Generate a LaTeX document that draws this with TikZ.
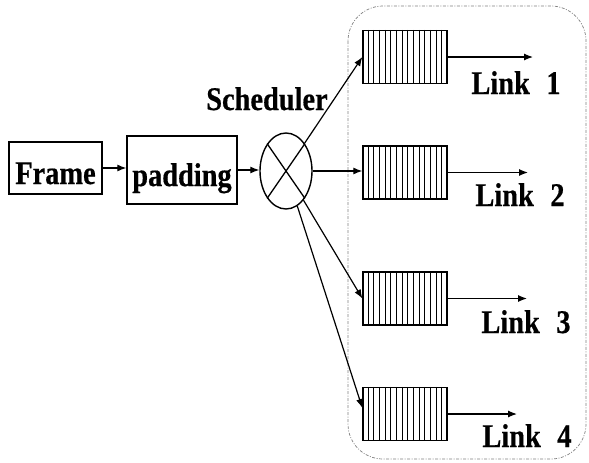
\documentclass[tikz,border=0pt]{standalone}
\usepackage{fontspec}
\setmainfont{Liberation Serif}[FakeStretch=0.86, BoldFeatures={FakeBold=0.5}]
\usetikzlibrary{arrows.meta,shapes.geometric,calc}

\tikzset{
  lbl/.style={font=\bfseries\fontsize{33}{36}\selectfont, inner sep=0pt},
  blk/.style={lbl, draw, line width=1.3pt, text height=32pt, text depth=0pt},
  queue/.style={draw, line width=1.3pt, minimum width=84pt, minimum height=53pt, inner sep=0pt},
  link/.style={line width=1.2pt, -{Latex[length=9pt,width=7pt]}}
}

\begin{document}
\begin{tikzpicture}[x=1pt, y=-1pt]
                    \useasboundingbox (0,0) rectangle (589,463);
                    
                    % Drawing link group border
                    \draw [gray, line width=0.7pt, dash pattern=on 3pt off 1.5pt on 1pt off 1.5pt, rounded corners=35pt] (348,6) rectangle (586,459);%
                    
                    % Marking block Frame
                    \node [blk, minimum width=93pt, minimum height=52pt] (frame) at (55.5,168) {Frame};%
                    
                    % Marking block padding
                    \node [blk, minimum width=110pt, minimum height=68pt] (padding) at (182,170) {padding};%
                    
                    % Marking scheduler by ellipse
                    \node [ellipse, draw, line width=1.4pt, minimum width=52pt, minimum height=76pt, inner sep=0pt] (sched) at (286,171) {};%
                    \draw [line width=1.3pt] (sched.north west) -- (sched.south east);%
                    \draw [line width=1.3pt] (sched.north east) -- (sched.south west);%
                    \node [lbl, anchor=base] (schedlbl) at (267,110) {Scheduler};%
                    
                    % Marking queues q1 .. q4
                    \node [queue] (q1) at (405,57) {};%
                    \node [queue] (q2) at (405,172.5) {};%
                    \node [queue] (q3) at (405,298.5) {};%
                    \node [queue] (q4) at (405,414) {};%
                    \foreach \q in {q1,q2,q3,q4}
                      \foreach \i in {1,...,14}
                        \draw [line width=1pt] ($(\q.north west)!\i/15!(\q.north east)$) -- ($(\q.south west)!\i/15!(\q.south east)$);%
                    
                    % Drawing segment frame padding
                    \draw [link] (frame.east) -- (frame.east -| padding.west);%
                    
                    % Drawing segment padding sched
                    \draw [link] (padding.east) -- (padding.east -| sched.west);%
                    
                    % Drawing segments sched q1 .. q4
                    \draw [link] (sched) -- (q1.west);%
                    \draw [link] (sched.east) -- (sched.east -| q2.west);%
                    \draw [link] (sched) -- (q3.west);%
                    \draw [link] (sched) -- (q4.172);%
                    
                    % Drawing outgoing links
                    \coordinate (o1) at (533,57);
                    \coordinate (o2) at (528,172.5);
                    \coordinate (o3) at (527,298.5);
                    \coordinate (o4) at (517,414);
                    \draw [link] (q1.east) -- (o1);%
                    \draw [link] (q2.east) -- (o2);%
                    \draw [link] (q3.east) -- (o3);%
                    \draw [link] (q4.east) -- (o4);%
                    
                    % Marking link names
                    \node [lbl, anchor=base] (l1) at (516,94) {Link\enspace 1};%
                    \node [lbl, anchor=base] (l2) at (520,206) {Link\enspace 2};%
                    \node [lbl, anchor=base] (l3) at (526,333) {Link\enspace 3};%
                    \node [lbl, anchor=base] (l4) at (527,447) {Link\enspace 4};%
\end{tikzpicture}
\end{document}
